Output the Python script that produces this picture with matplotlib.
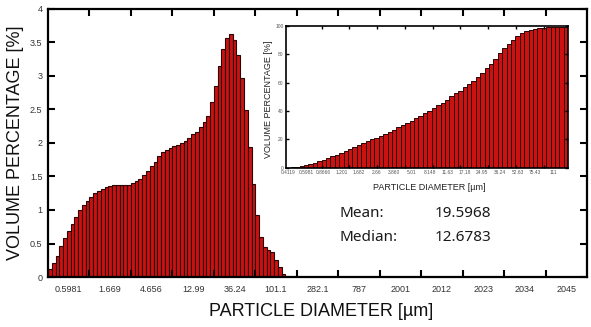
import numpy as np
import matplotlib.pyplot as plt

plt.rcParams['font.family'] = ['Liberation Sans', 'DejaVu Sans']

# differential volume distribution, % per size channel
main_pct = [0.12, 0.21, 0.32, 0.46, 0.58, 0.68, 0.79, 0.89, 1.00, 1.07, 1.13,
            1.20, 1.25, 1.29, 1.32, 1.34, 1.36, 1.37, 1.38, 1.38, 1.38, 1.38,
            1.41, 1.43, 1.47, 1.52, 1.58, 1.65, 1.72, 1.80, 1.86, 1.90, 1.93,
            1.95, 1.97, 2.00, 2.03, 2.07, 2.13, 2.17, 2.24, 2.31, 2.41, 2.61,
            2.85, 3.15, 3.40, 3.56, 3.62, 3.54, 3.31, 2.97, 2.49, 1.94, 1.39,
            0.92, 0.60, 0.45, 0.40, 0.38, 0.26, 0.15, 0.04, 0.015]

# cumulative volume distribution (inset)
cum_pct = [0.1, 0.3, 0.6, 1.2, 1.9, 2.7, 3.6, 4.6, 5.7, 6.8, 8.0,
           9.3, 10.6, 11.9, 13.2, 14.6, 15.9, 17.3, 18.7, 20.0, 21.3, 22.6,
           24.0, 25.4, 26.9, 28.4, 29.9, 31.5, 33.2, 34.9, 36.6, 38.5, 40.0,
           42.1, 44.0, 46.0, 48.0, 50.3, 52.5, 54.4, 56.7, 59.1, 61.3, 64.0,
           67.0, 70.2, 73.3, 76.8, 80.8, 84.3, 87.2, 90.2, 92.8, 94.8, 96.3,
           97.2, 97.9, 98.3, 98.6, 99.0, 99.2, 99.4, 99.5, 99.5]

main_xlabels = ['0.5981', '1.669', '4.656', '12.99', '36.24', '101.1', '282.1',
                '787', '2001', '2012', '2023', '2034', '2045']
main_yticks = [0, 0.5, 1, 1.5, 2, 2.5, 3, 3.5, 4]
main_ylabels = ['0', '0.5', '1', '1.5', '2', '2.5', '3', '3.5', '4']

inset_xlabels = ['0.4119', '0.5981', '0.8666', '1.201', '1.682', '2.66', '3.860',
                 '5.01', '8.148', '11.63', '17.18', '24.95', '36.24', '52.63',
                 '75.43', '111']
inset_yticks = [0, 20, 40, 60, 80, 100]

mean_val = '19.5968'
median_val = '12.6783'

bins_per_label = 11
bar_face = '#cc1111'
bar_edge = '#2a0505'
tick_col = '#333333'

fig = plt.figure(figsize=(5.91, 3.27), dpi=100)

# ---- main histogram ----
ax = fig.add_axes([0.0812, 0.1529, 0.912, 0.8196])
ax.bar(np.arange(len(main_pct)), main_pct, width=1.0,
       color=bar_face, edgecolor=bar_edge, linewidth=0.8)

n_bins = bins_per_label * len(main_xlabels)
ax.set_xlim(-0.5, n_bins - 0.5)
ax.set_ylim(0, 4)

ax.set_xticks(np.arange(1, len(main_xlabels)) * bins_per_label - 0.5)
ax.set_xticks(np.arange(len(main_xlabels)) * bins_per_label + 5, minor=True)
ax.set_xticklabels(main_xlabels, minor=True)
ax.tick_params(axis='x', which='major', direction='in', length=5, width=1.5,
               top=True, labelbottom=False)
ax.tick_params(axis='x', which='minor', length=0, pad=5.5,
               labelsize=6.5, labelcolor=tick_col)

ax.set_yticks(main_yticks)
ax.set_yticklabels(main_ylabels)
ax.tick_params(axis='y', direction='in', length=5, width=1.5, right=True,
               pad=4, labelsize=6.5, labelcolor=tick_col)
for sp in ax.spines.values():
    sp.set_linewidth(1.6)

fig.text(0.544, 0.047, 'PARTICLE DIAMETER [\u00b5m]', fontsize=13,
         ha='center', va='center', color='#111111')
fig.text(0.026, 0.562, 'VOLUME PERCENTAGE [%]', fontsize=13, rotation=90,
         ha='center', va='center', color='#111111')

# stats
fig.text(0.575, 0.335, 'Mean:', fontsize=11, family='Noto Sans', color='#1a1a1a')
fig.text(0.736, 0.335, mean_val, fontsize=11, family='Noto Sans', color='#1a1a1a')
fig.text(0.575, 0.2615, 'Median:', fontsize=11, family='Noto Sans', color='#1a1a1a')
fig.text(0.736, 0.2615, median_val, fontsize=11, family='Noto Sans', color='#1a1a1a')

# ---- inset: cumulative ----
ins = fig.add_axes([0.4844, 0.4872, 0.4772, 0.4333])
ins.bar(np.arange(len(cum_pct)), cum_pct, width=1.0,
        color=bar_face, edgecolor=bar_edge, linewidth=0.7)
ins.set_xlim(-0.5, len(cum_pct) - 0.5)
ins.set_ylim(0, 100)

ins.set_xticks(7.5 + 6.3 * np.arange(9))
ins.set_xticks(np.arange(len(inset_xlabels)) * 4, minor=True)
ins.set_xticklabels(inset_xlabels, minor=True)
ins.tick_params(axis='x', which='major', direction='in', length=2.5, width=1,
                top=True, labelbottom=False)
ins.tick_params(axis='x', which='minor', length=0, pad=2,
                labelsize=3.5, labelcolor='#555555')
ins.set_yticks(inset_yticks)
ins.tick_params(axis='y', direction='in', length=2.5, width=1, right=True,
                pad=2, labelsize=3.5, labelcolor='#555555')
for sp in ins.spines.values():
    sp.set_linewidth(1.2)

fig.text(0.726, 0.428, 'PARTICLE DIAMETER [\u00b5m]', fontsize=6.5,
         ha='center', va='center', color='#222222')
fig.text(0.4535, 0.697, 'VOLUME PERCENTAGE [%]', fontsize=6.5, rotation=90,
         ha='center', va='center', color='#222222')

fig.savefig('out.png', dpi=100)
